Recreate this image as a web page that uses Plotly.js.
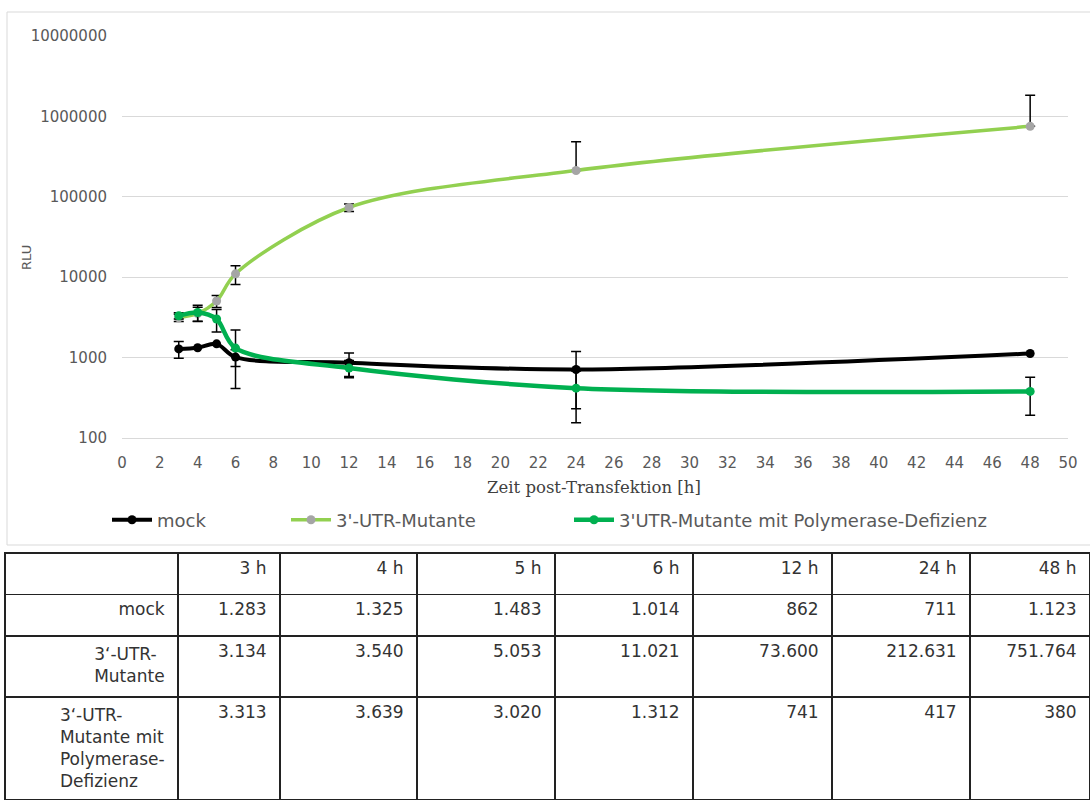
<!DOCTYPE html>
<html>
<head>
<meta charset="utf-8">
<script src="https://cdn.plot.ly/plotly-3.0.1.min.js"></script>
<style>
html,body{margin:0;padding:0;overflow:hidden;background:#fff;}
#chart{width:1090px;height:900px;}
</style>
</head>
<body>
<div id="chart"></div>
<script>
// ---- data ----
const times = [3, 4, 5, 6, 12, 24, 48];
const timeLabels = ["3 h", "4 h", "5 h", "6 h", "12 h", "24 h", "48 h"];
const seriesNames = ["mock", "3'-UTR-Mutante", "3'UTR-Mutante mit Polymerase-Defizienz"];
const rowLabels = ["mock", "3‘-UTR-<br>Mutante", "3‘-UTR-<br>Mutante mit<br>Polymerase-<br>Defizienz"];
const mock = [1283, 1325, 1483, 1014, 862, 711, 1123];
const utr = [3134, 3540, 5053, 11021, 73600, 212631, 751764];
const poly = [3313, 3639, 3020, 1312, 741, 417, 380];
const mockErr = [300, null, null, 240, 280, 480, null];
const utrErr = [330, 700, 850, 2900, 8000, 270000, 1080000];
const polyErr = [294, 830, 935, 900, 180, 262, 188];
const yTickVals = [100, 1000, 10000, 100000, 1000000, 10000000];
const yTickText = ["100", "1000", "10000", "100000", "1000000", "10000000"];

// ---- helpers ----
const W = 1090, H = 900;
const fx = px => px / W;
const fy = py => (H - py) / H;
const up = e => e.map(v => v == null ? NaN : v);
const down = (e, vals) => e.map((v, i) => v == null ? NaN : (v < vals[i] ? v : 0));
const de = v => String(v).replace(/\B(?=(\d{3})+(?!\d))/g, '.');
const pad = s => String(s).split('<br>').map(l => l + '\u00a0').join('<br>');

const sansFont = "'DejaVu Sans', 'Liberation Sans', sans-serif";
const gray = "#595959";

function lineTrace(name, y, err, lineColor, markerColor, lw, legendId) {
  return {
    type: 'scatter', mode: 'lines+markers', name: name,
    x: times, y: y,
    line: {color: lineColor, width: lw, shape: 'spline', smoothing: 0.9},
    marker: {color: markerColor, size: 9},
    error_y: {type: 'data', symmetric: false, array: up(err), arrayminus: down(err, y),
              color: '#000', thickness: 1.5, width: 5},
    legend: legendId, xaxis: 'x', yaxis: 'y'
  };
}

// table: first two rows (time header + mock) as header rows, remaining rows as cells
const headerCols = [["", pad(rowLabels[0])]].concat(times.map((t, i) => [pad(timeLabels[i]), pad(de(mock[i]))]));
const cellCols = [[pad(rowLabels[1]), pad(rowLabels[2])]].concat(times.map((t, i) => [pad(de(utr[i])), pad(de(poly[i]))]));

const traces = [
  lineTrace(seriesNames[0], mock, mockErr, '#000000', '#000000', 4, 'legend'),
  lineTrace(seriesNames[1], utr, utrErr, '#92D050', '#A5A5A5', 3.5, 'legend2'),
  lineTrace(seriesNames[2], poly, polyErr, '#00B050', '#00B050', 4.5, 'legend3'),
  {
    type: 'table',
    domain: {x: [fx(5), 1], y: [0, fy(553)]},
    columnwidth: [173, 102, 137, 138, 138, 139, 138, 120],
    header: {
      values: headerCols,
      align: 'right', height: 41.5,
      line: {color: '#222', width: 1.3},
      fill: {color: '#fff'},
      font: {family: sansFont, size: 17, color: '#333'}
    },
    cells: {
      values: cellCols,
      align: 'right', height: 61,
      line: {color: '#222', width: 1.3},
      fill: {color: '#fff'},
      font: {family: sansFont, size: 17, color: '#333'}
    }
  }
];

const legendBase = {
  orientation: 'h', xanchor: 'left', yanchor: 'middle', y: fy(520),
  bgcolor: 'rgba(0,0,0,0)', itemwidth: 40,
  font: {family: sansFont, size: 18, color: gray}
};

const layout = {
  width: W, height: H,
  margin: {l: 0, r: 0, t: 0, b: 0},
  paper_bgcolor: '#fff', plot_bgcolor: '#fff',
  showlegend: true,
  legend: Object.assign({}, legendBase, {x: fx(107)}),
  legend2: Object.assign({}, legendBase, {x: fx(286)}),
  legend3: Object.assign({}, legendBase, {x: fx(569)}),
  xaxis: {
    domain: [fx(122), fx(1068)], range: [0, 50], dtick: 2, tick0: 0,
    showgrid: false, zeroline: false, showline: true, linecolor: '#d9d9d9', linewidth: 1,
    ticks: '', ticklabelstandoff: 11,
    tickfont: {family: sansFont, size: 15, color: gray}, anchor: 'y'
  },
  yaxis: {
    type: 'log', domain: [fy(438), fy(36)], range: [2, 7],
    tickmode: 'array', tickvals: yTickVals, ticktext: yTickText,
    showgrid: true, gridcolor: '#d9d9d9', gridwidth: 1, zeroline: false, showline: false,
    ticks: '', ticklabelstandoff: 14,
    tickfont: {family: sansFont, size: 15, color: gray}, anchor: 'x'
  },
  annotations: [
    {text: 'Zeit post-Transfektion [h]', xref: 'paper', yref: 'paper', x: fx(594), y: fy(487),
     xanchor: 'center', yanchor: 'middle', showarrow: false,
     font: {family: "'DejaVu Serif', 'Liberation Serif', serif", size: 16.5, color: '#404040'}},
    {text: 'RLU', xref: 'paper', yref: 'paper', x: fx(27), y: fy(258), textangle: -90,
     xanchor: 'center', yanchor: 'middle', showarrow: false,
     font: {family: sansFont, size: 13, color: gray}}
  ],
  shapes: [
    {type: 'rect', xref: 'paper', yref: 'paper', x0: fx(7), x1: fx(1100), y0: fy(545), y1: fy(12),
     line: {color: '#d9d9d9', width: 1}, fillcolor: 'rgba(0,0,0,0)', layer: 'below'}
  ]
};

Plotly.newPlot('chart', traces, layout, {displayModeBar: false, staticPlot: true});
</script>
</body>
</html>
